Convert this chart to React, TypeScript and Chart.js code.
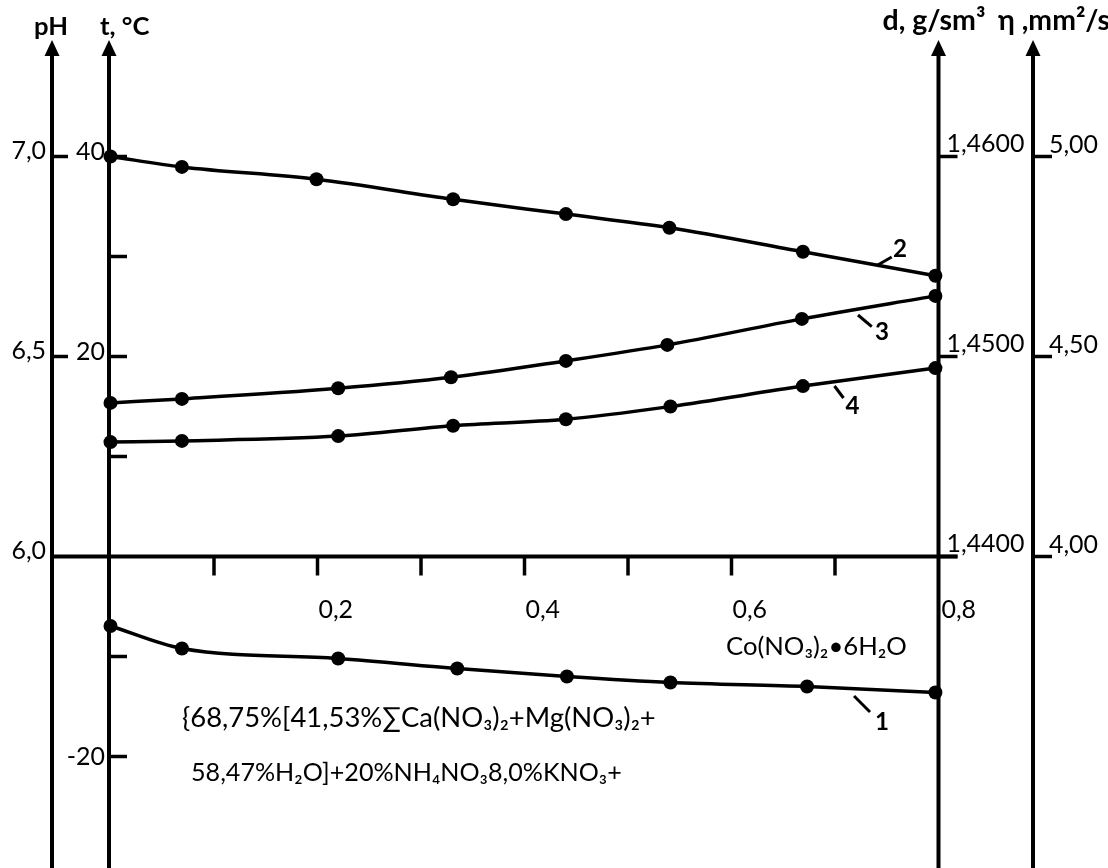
import React, { useEffect, useRef } from "react";
import { Chart, registerables } from "chart.js";

Chart.register(...registerables);

// ---- Data ----
// Curve 1: crystallization temperature, °C
const xCurve1 = [0, 0.069, 0.22, 0.335, 0.441, 0.541, 0.673, 0.797];
const tValues = [-6.95, -9.2, -10.2, -11.2, -12.0, -12.6, -13.0, -13.6];
// Curve 2: pH
const xCurve2 = [0, 0.069, 0.199, 0.331, 0.44, 0.54, 0.669, 0.797];
const pHValues = [7.0, 6.974, 6.943, 6.893, 6.856, 6.822, 6.762, 6.702];
// Curve 3: density, g/sm3
const xCurve3 = [0, 0.069, 0.22, 0.329, 0.44, 0.538, 0.668, 0.797];
const densityValues = [1.44768, 1.44788, 1.44841, 1.44896, 1.44978, 1.45058, 1.45188, 1.45303];
// Curve 4: viscosity, mm2/s
const xCurve4 = [0, 0.069, 0.22, 0.331, 0.44, 0.541, 0.669, 0.797];
const viscosityValues = [4.286, 4.289, 4.301, 4.327, 4.343, 4.375, 4.426, 4.471];

// ---- Tick values / labels ----
const xTickValues = [0.1, 0.2, 0.3, 0.4, 0.5, 0.6, 0.7];
const xLabelValues = [0.2, 0.4, 0.6, 0.8];
const pHTickValues = [7.0, 6.5];
const pHLabelValues = [7.0, 6.5, 6.0];
const tTickValues = [40, 30, 20, 10, -10, -20];
const tLabelValues = [40, 20, -20];
const dTickValues = [1.46, 1.45, 1.44];
const etaTickValues = [5.0, 4.5, 4.0];

const axisTitles = {
  pH: "pH",
  t: "t, °C",
  d: "d, g/sm³",
  eta: "η ,mm²/s",
};
const formulaLine1 = "{68,75%[41,53%∑Ca(NO₃)₂+Mg(NO₃)₂+";
const formulaLine2 = "58,47%H₂O]+20%NH₄NO₃8,0%KNO₃+";
const additiveLabel = "Co(NO₃)₂•6H₂O";

// curve number annotations (in x-value / t-scale units)
const curveNotes = [
  { text: "1", from: [0.7184, -13.95], to: [0.7338, -15.55], at: [0.7386, -17.35] },
  { text: "2", from: [0.7413, 29.15], to: [0.7548, 29.95], at: [0.756, 29.95] },
  { text: "3", from: [0.7222, 24.15], to: [0.7355, 22.98], at: [0.7386, 21.65] },
  { text: "4", from: [0.6995, 17.05], to: [0.7082, 15.85], at: [0.7101, 14.25] },
];

const FONT = "Lato, 'Open Sans', 'DejaVu Sans', sans-serif";
const comma = (v: number, d: number) => v.toFixed(d).replace(".", ",");

const toPoints = (xs: number[], ys: number[]) => xs.map((x, i) => ({ x, y: ys[i] }));

function fitSize(ctx: CanvasRenderingContext2D, text: string, width: number, weight = "normal") {
  const base = 20;
  ctx.font = `${weight} ${base}px ${FONT}`;
  const w = ctx.measureText(text).width;
  return Math.max(10, Math.min(48, (base * width) / w));
}
function fitFont(ctx: CanvasRenderingContext2D, text: string, width: number, weight = "normal") {
  const size = fitSize(ctx, text, width, weight);
  ctx.font = `${weight} ${size}px ${FONT}`;
}

const axesPlugin = {
  id: "customAxes",
  beforeDatasetsDraw(chart: any) {
    const { ctx, scales } = chart;
    const xs = scales.x;
    const ts = scales.t;
    const ps = scales.pH;
    const ds = scales.d;
    const es = scales.eta;
    const xT = xs.getPixelForValue(0) - 1.5;
    const xD = xs.getPixelForValue(0.8);
    const xP = xT - 57;
    const xE = xD + 94.5;
    const y0 = ts.getPixelForValue(0);
    const tip = 40;
    const base = 56;
    const bottom = chart.height;

    ctx.save();
    ctx.strokeStyle = "#000";
    ctx.fillStyle = "#000";
    ctx.lineCap = "butt";

    // vertical axes with arrows
    ctx.lineWidth = 4;
    for (const ax of [xP, xT, xD, xE]) {
      ctx.beginPath();
      ctx.moveTo(ax, base - 2);
      ctx.lineTo(ax, bottom);
      ctx.stroke();
      ctx.beginPath();
      ctx.moveTo(ax, tip);
      ctx.lineTo(ax - 7.5, base);
      ctx.lineTo(ax + 7.5, base);
      ctx.closePath();
      ctx.fill();
    }
    // horizontal axis
    ctx.beginPath();
    ctx.moveTo(xP, y0);
    ctx.lineTo(xD + 19, y0);
    ctx.stroke();

    // ticks
    ctx.lineWidth = 3.5;
    const hTick = (x: number, y: number, len: number) => {
      ctx.beginPath();
      ctx.moveTo(x, y);
      ctx.lineTo(x + len, y);
      ctx.stroke();
    };
    pHTickValues.forEach((v) => hTick(xP, ps.getPixelForValue(v), 16));
    tTickValues.forEach((v) => hTick(xT, ts.getPixelForValue(v), 18));
    dTickValues.forEach((v) => hTick(xD, ds.getPixelForValue(v), 19));
    etaTickValues.forEach((v) => hTick(xE, es.getPixelForValue(v), 19));
    xTickValues.forEach((v) => {
      const px = xs.getPixelForValue(v);
      ctx.beginPath();
      ctx.moveTo(px, y0);
      ctx.lineTo(px, y0 + 19);
      ctx.stroke();
    });

    // tick labels
    const tickSize = fitSize(ctx, "1,4600", 78);
    ctx.font = `normal ${tickSize}px ${FONT}`;
    ctx.textBaseline = "alphabetic";
    ctx.textAlign = "right";
    pHLabelValues.forEach((v) => ctx.fillText(comma(v, 1), xP - 6, ps.getPixelForValue(v) + 2));
    tLabelValues.forEach((v) => {
      const y = ts.getPixelForValue(v);
      ctx.fillText(String(v), xT - 4, v < 0 ? y + 8 : y + 3);
    });
    ctx.textAlign = "left";
    dTickValues.forEach((v) => ctx.fillText(comma(v, 4), xD + 8, ds.getPixelForValue(v) - 5));
    etaTickValues.forEach((v) => ctx.fillText(comma(v, 2), xE + 16, es.getPixelForValue(v) - 4));
    xLabelValues.forEach((v) => {
      const px = xs.getPixelForValue(v);
      ctx.fillText(comma(v, 1), px + (v >= 0.8 ? 3 : 1), y0 + 61);
    });

    // axis titles
    const titleSize = fitSize(ctx, axisTitles.pH, 34, "bold");
    ctx.font = `bold ${titleSize}px ${FONT}`;
    ctx.textAlign = "center";
    ctx.fillText(axisTitles.pH, xP - 1, 35);
    ctx.textAlign = "left";
    ctx.fillText(axisTitles.t, xT - 9, 35);
    fitFont(ctx, axisTitles.d, 103, "bold");
    ctx.fillText(axisTitles.d, xD - 56, 30);
    fitFont(ctx, axisTitles.eta, 112, "bold");
    ctx.fillText(axisTitles.eta, xE - 35, 30);

    // formula texts
    fitFont(ctx, additiveLabel, 181);
    ctx.fillText(additiveLabel, 726, ts.getPixelForValue(-9.85));
    fitFont(ctx, formulaLine1, 474);
    ctx.fillText(formulaLine1, 182, ts.getPixelForValue(-17.05));
    fitFont(ctx, formulaLine2, 431);
    ctx.fillText(formulaLine2, 191, ts.getPixelForValue(-22.45));

    // curve number annotations
    ctx.lineWidth = 3;
    const noteSize = fitSize(ctx, "2", 14, "bold");
    ctx.font = `bold ${noteSize}px ${FONT}`;
    curveNotes.forEach((n) => {
      ctx.beginPath();
      ctx.moveTo(xs.getPixelForValue(n.from[0]), ts.getPixelForValue(n.from[1]));
      ctx.lineTo(xs.getPixelForValue(n.to[0]), ts.getPixelForValue(n.to[1]));
      ctx.stroke();
      ctx.fillText(n.text, xs.getPixelForValue(n.at[0]), ts.getPixelForValue(n.at[1]));
    });

    ctx.restore();
  },
};

export default function App() {
  const canvasRef = useRef<HTMLCanvasElement | null>(null);

  useEffect(() => {
    if (!canvasRef.current) return;
    const common = {
      borderColor: "#000",
      backgroundColor: "#000",
      pointBackgroundColor: "#000",
      pointBorderColor: "#000",
      pointRadius: 7,
      pointBorderWidth: 0,
      borderWidth: 3.5,
      showLine: true,
      fill: false,
      clip: false as const,
      cubicInterpolationMode: "monotone" as const,
    };
    const chart = new Chart(canvasRef.current, {
      type: "scatter",
      data: {
        datasets: [
          { ...common, label: "1", data: toPoints(xCurve1, tValues), yAxisID: "t" },
          { ...common, label: "2", data: toPoints(xCurve2, pHValues), yAxisID: "pH" },
          { ...common, label: "3", data: toPoints(xCurve3, densityValues), yAxisID: "d" },
          { ...common, label: "4", data: toPoints(xCurve4, viscosityValues), yAxisID: "eta" },
        ],
      },
      options: {
        responsive: false,
        animation: false,
        layout: { padding: { left: 110.5, right: 169.5, top: 56.5, bottom: 11.5 } },
        plugins: { legend: { display: false }, tooltip: { enabled: false } },
        scales: {
          x: { type: "linear", min: 0, max: 0.8, display: false },
          t: { type: "linear", position: "left", min: -30, max: 50, display: false },
          pH: { type: "linear", position: "left", min: 5.25, max: 7.25, display: false },
          d: { type: "linear", position: "right", min: 1.425, max: 1.465, display: false },
          eta: { type: "linear", position: "right", min: 3.25, max: 5.25, display: false },
        },
      },
      plugins: [axesPlugin],
    });
    return () => chart.destroy();
  }, []);

  return (
    <div style={{ position: "fixed", left: 0, top: 0, width: 1108, height: 868, background: "#fff" }}>
      <canvas ref={canvasRef} width={1108} height={868} style={{ display: "block" }} />
    </div>
  );
}
